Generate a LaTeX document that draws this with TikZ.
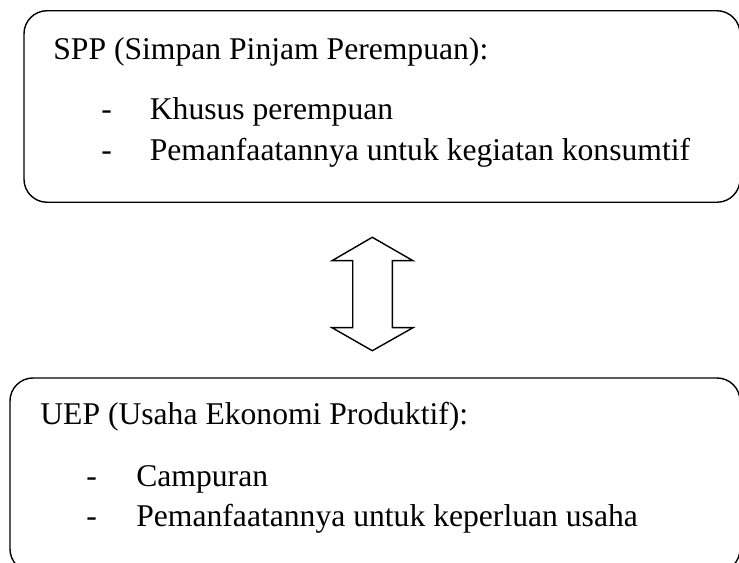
\documentclass[tikz,border=0pt]{standalone}
\usepackage{fontspec}
\setmainfont{Liberation Serif}

\tikzset{
kotak/.style={draw,line width=0.8pt,rounded corners=0.46cm,inner sep=0pt},
teks/.style={anchor=base west,inner sep=0pt,font=\fontsize{18}{22}\selectfont}
}

\begin{document}
\begin{tikzpicture}

\useasboundingbox (0,0) rectangle (14.78,11.26);

% SPP
\node[kotak,minimum width=14.32cm,minimum height=3.83cm]
(spp) at (7.64,9.13) {};

\node[teks] (sppjudul) at (1.06,10.06)
{SPP (Simpan Pinjam Perempuan):};

\foreach \i/\y/\t in {
1/8.86/Khusus perempuan,
2/8.04/Pemanfaatannya untuk kegiatan konsumtif
}
{
\node[teks] (sppstrip\i) at (2.02,\y) {-};
\node[teks] (spp\i) at (2.99,\y) {\t};
}

% Panah
\draw[line width=0.8pt,line join=miter]
(7.446,6.514) -- (8.26,6.046) -- (7.846,6.046)
-- (7.846,4.706) -- (8.26,4.706) -- (7.446,4.246)
-- (6.64,4.706) -- (7.054,4.706) -- (7.054,6.046)
-- (6.64,6.046) -- cycle;

% UEP
\node[kotak,minimum width=14.6cm,minimum height=3.88cm]
(uep) at (7.5,1.76) {};

\node[teks] (uepjudul) at (0.8,2.76)
{UEP (Usaha Ekonomi Produktif):};

\foreach \i/\y/\t in {
1/1.52/Campuran,
2/0.72/Pemanfaatannya untuk keperluan usaha
}
{
\node[teks] (uepstrip\i) at (1.72,\y) {-};
\node[teks] (uep\i) at (2.72,\y) {\t};
}

\end{tikzpicture}
\end{document}
